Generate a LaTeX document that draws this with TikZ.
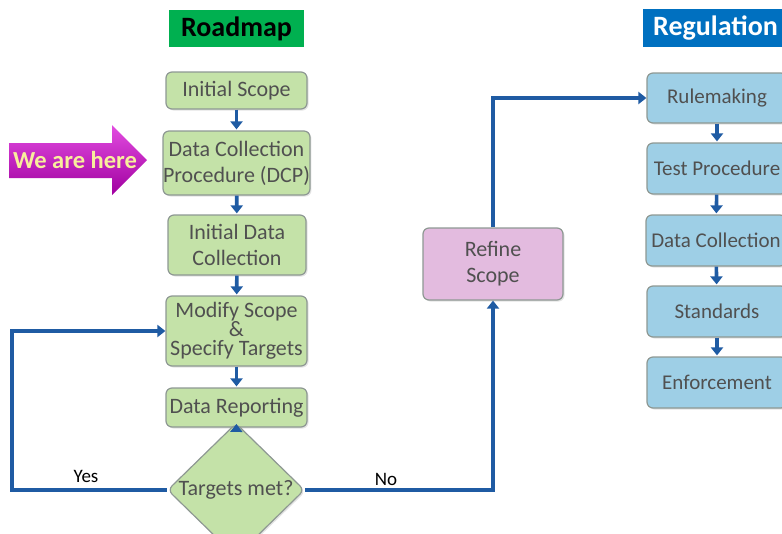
\documentclass[tikz,border=0pt]{standalone}
\usepackage{fontspec}
\setmainfont{Carlito}
\usetikzlibrary{shapes.geometric,arrows.meta,shadows}

\definecolor{boxgreen}{HTML}{C4E2A8}
\definecolor{boxblue}{HTML}{9ECFE6}
\definecolor{boxpink}{HTML}{E3BBDF}
\definecolor{boxedge}{HTML}{8E9893}
\definecolor{boxtext}{HTML}{505050}
\definecolor{flow}{HTML}{1F5BA3}
\definecolor{titlegreen}{HTML}{00B050}
\definecolor{titleblue}{HTML}{0070C0}
\definecolor{heretop}{HTML}{E24CE0}
\definecolor{heremid}{HTML}{CC00CC}
\definecolor{herebot}{HTML}{A000A0}
\definecolor{heretext}{HTML}{F8EE9C}

\begin{document}
\begin{tikzpicture}[x=1pt,y=-1pt,
  box/.style={rectangle, rounded corners=6pt, draw=boxedge, line width=1.2pt,
    text=boxtext, font=\fontsize{22}{26}\selectfont, align=center, inner sep=0pt,
    drop shadow={opacity=0.22, shadow xshift=1.5pt, shadow yshift=-1.5pt}},
  gbox/.style={box, fill=boxgreen, minimum width=141pt},
  bbox/.style={box, fill=boxblue, minimum width=140pt, minimum height=51pt,
    font=\fontsize{21}{26}\selectfont},
  pbox/.style={box, fill=boxpink, minimum width=140pt},
  title/.style={rectangle, inner sep=0pt, font=\fontsize{28}{32}\selectfont\bfseries},
  flowline/.style={draw=flow, line width=3.6pt, -{Triangle[width=12pt,length=8pt]}},
  stub/.style={flowline, shorten >=1pt},
  answer/.style={font=\fontsize{19}{22}\selectfont, text=black, inner sep=0pt}
]
\useasboundingbox (0,0) rectangle (782,533);
\clip (0,0) rectangle (782,533);

% column titles
\node[title, fill=titlegreen, minimum width=135pt, minimum height=37pt] (roadmap) at (236.5,28.5) {Roadmap};
\fill[titleblue] (643,9) rectangle (800,47);
\node[title, text=white, anchor=west] (regulation) at (653,28.5) {Regulation};

% roadmap column
\node[gbox, minimum height=37pt] (init) at (236.5,90.5) {Initial Scope};
\node[gbox, minimum height=64pt] (dcp) at (236.5,163) {Data Collection\\Procedure (DCP)};
\node[gbox, minimum width=138pt, minimum height=60pt] (idc) at (237,245) {Initial Data\\Collection};
\node[gbox, minimum height=70pt, font=\fontsize{22}{19}\selectfont] (mod) at (236.5,331) {Modify Scope\\\&\\Specify Targets};
\node[gbox, minimum height=39pt] (rep) at (236.5,407.5) {Data Reporting};
\node[box, fill=boxgreen, shape=diamond, minimum width=137pt, minimum height=84pt] (met) at (236,490) {Targets met?};

% refine step
\node[pbox, minimum height=72pt] (refine) at (493,264) {Refine\\Scope};

% regulation column
\node[bbox, minimum height=50pt] (rule) at (717,98) {Rulemaking};
\node[bbox] (test) at (717,168.5) {Test Procedure};
\node[bbox] (dcol) at (716,240.5) {Data Collection};
\node[bbox] (std) at (717,311.5) {Standards};
\node[bbox] (enf) at (717,382.5) {Enforcement};

% current position marker
\shade[top color=heretop, middle color=heremid, bottom color=herebot]
  (9,143) -- (112,143) -- (112,125) -- (147,160) -- (112,195) -- (112,178) -- (9,178) -- cycle;
\node[font=\fontsize{24.5}{28}\selectfont\bfseries, text=heretext, inner sep=0pt] (here) at (75,160) {We are here};

% connectors
\draw[stub] (init) -- (dcp);
\draw[stub] (dcp) -- (idc);
\draw[stub] (idc) -- (mod);
\draw[stub] (mod) -- (rep);
\draw[stub] (rep) -- (met);
\draw[stub] (rule) -- (test);
\draw[stub] (test) -- (dcol);
\draw[stub] (dcol) -- (std);
\draw[stub] (std) -- (enf);

\coordinate (yescorner) at (12,490);
\draw[flowline] (met.west) -- (yescorner) |- (mod.west);
\draw[flowline] (met.east) -| (refine.south);
\draw[flowline] (refine.north) |- (rule.west);

\node[answer] (yes) at (86,476) {Yes};
\node[answer] (no) at (386,479) {No};
\end{tikzpicture}
\end{document}
